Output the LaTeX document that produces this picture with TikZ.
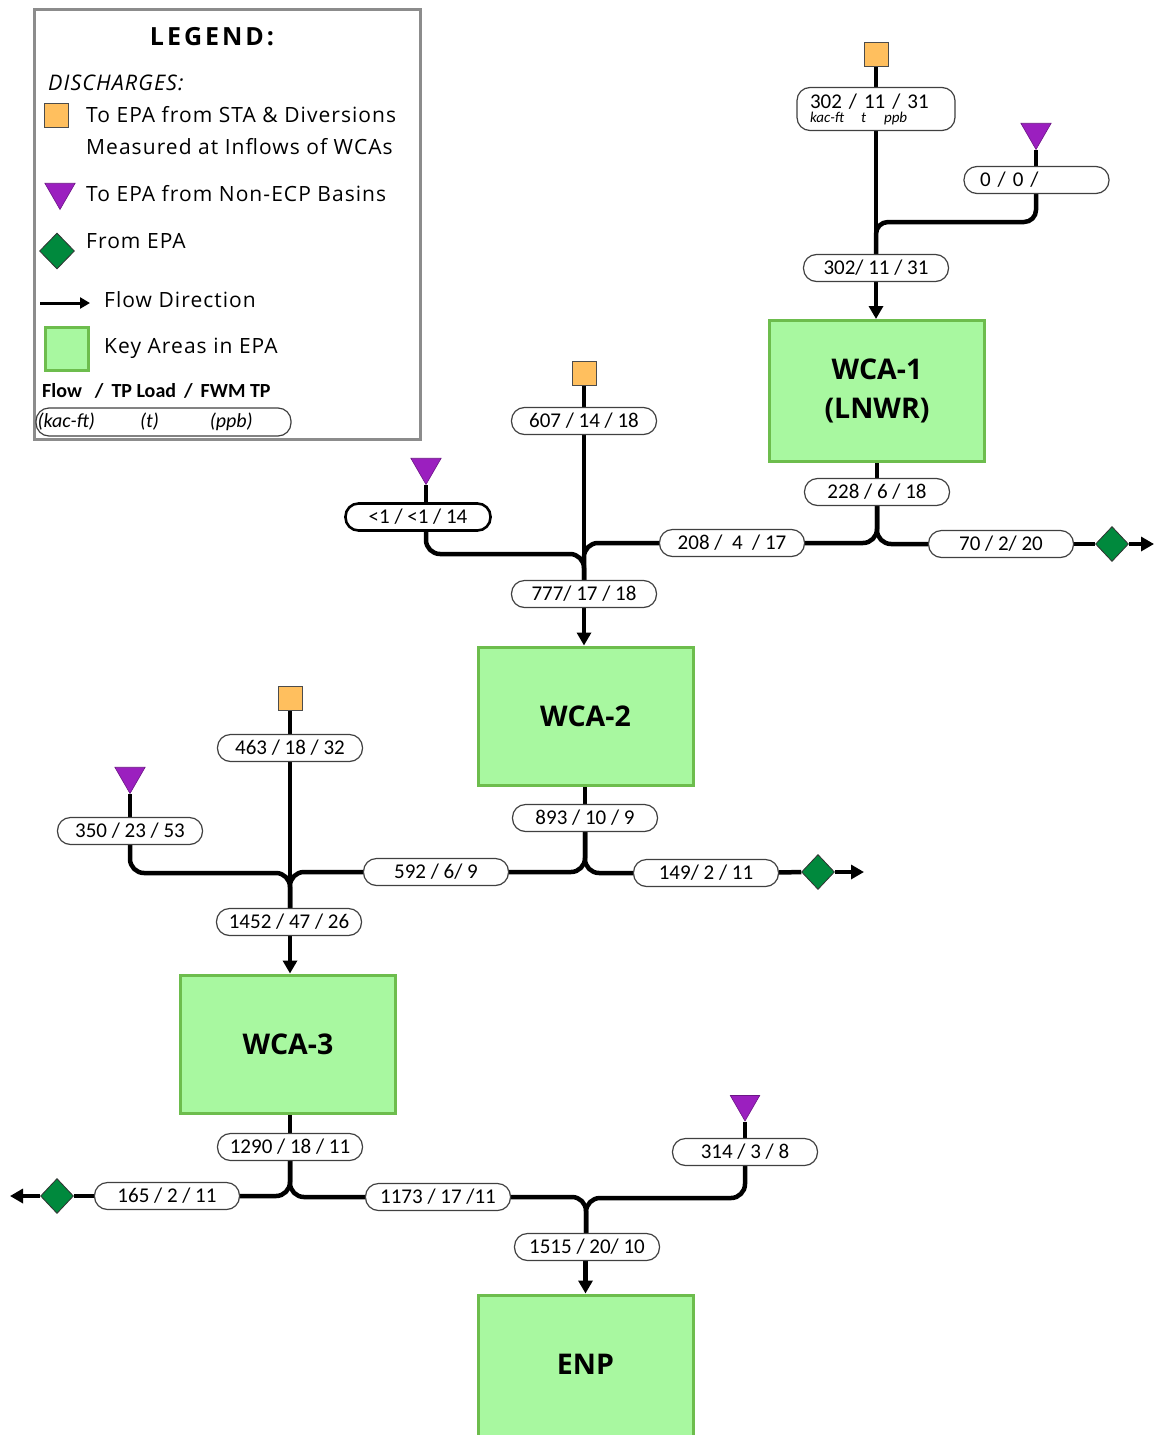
\documentclass[tikz,border=0pt]{standalone}
\usepackage{fontspec}
\setmainfont{Open Sans}
\newfontfamily\numfont{Carlito}
\newfontfamily\spacedfont[LetterSpace=12]{Open Sans}
\newfontfamily\legfont[LetterSpace=5]{Open Sans}
\usetikzlibrary{arrows.meta,shapes.geometric,backgrounds}
\definecolor{stacol}{HTML}{FFBF5E}
\definecolor{basincol}{HTML}{9B1FBF}
\definecolor{outcol}{HTML}{00893D}
\definecolor{areacol}{HTML}{A8F8A0}
\definecolor{areaedge}{HTML}{6DBD4D}
\tikzset{%
  flow/.style={line width=4.5pt, line join=round},%
  flowarrow/.style={flow, -{Triangle[length=13pt,width=14pt]}},%
  pill/.style={draw=black!75, line width=1.2pt, fill=white, rounded corners=13pt,%
    minimum width=145pt, minimum height=27pt, inner sep=0pt,%
    font=\numfont\fontsize{21}{21}\selectfont},%
  stabox/.style={draw=black!70, line width=1pt, fill=stacol, minimum size=24pt, inner sep=0pt},%
  basin/.style={regular polygon, regular polygon sides=3, shape border rotate=180,%
    fill=basincol, draw=basincol!70!black, line width=0.6pt, minimum size=35pt, inner sep=0pt},%
  outlet/.style={diamond, fill=outcol, draw=black!80, line width=0.8pt,%
    minimum width=33pt, minimum height=35pt, inner sep=0pt},%
  area/.style={draw=areaedge, line width=3pt, fill=areacol, minimum width=215pt,%
    minimum height=138pt, inner sep=0pt, align=center,%
    font=\fontsize{28.5}{39}\selectfont\bfseries},%
  legtext/.style={anchor=west, inner sep=0pt, font=\legfont\fontsize{21}{21}\selectfont},%
}
\begin{document}
\begin{tikzpicture}[x=1pt,y=-1pt]%
\useasboundingbox (0,0) rectangle (1154,1435);%
%
\node[draw=black!45, line width=3pt, minimum width=386pt, minimum height=430pt] (legend) at (227.5,224.5) {};%
\node[inner sep=0pt, font=\spacedfont\fontsize{25}{25}\selectfont\bfseries] (legtitle) at (212,37) {LEGEND:};%
\node[legtext, font=\legfont\fontsize{21.5}{21.5}\selectfont\itshape] (legdis) at (48,83) {DISCHARGES:};%
\node[stabox] (lsq) at (56,115) {};%
\node[legtext] (lsqa) at (86,115) {To EPA from STA \& Diversions};%
\node[legtext] (lsqb) at (86,147) {Measured at Inflows of WCAs};%
\node[basin] (ltri) at (60,192) {};%
\node[legtext] (ltritxt) at (86,194) {To EPA from Non-ECP Basins};%
\node[outlet, minimum width=35pt, minimum height=36pt] (ldia) at (57,251) {};%
\node[legtext] (ldiatxt) at (86,241) {From EPA};%
\coordinate (larr0) at (40,303);%
\coordinate (larr1) at (90,303);%
\draw[line width=3pt, -{Triangle[length=10pt,width=11pt]}] (larr0) -- (larr1);%
\node[legtext] (larrtxt) at (104,300) {Flow Direction};%
\node[area, minimum width=43pt, minimum height=43pt] (lkey) at (67,349) {};%
\node[legtext] (lkeytxt) at (104,348) {Key Areas in EPA};%
\node[legtext, font=\numfont\fontsize{20}{20}\selectfont\bfseries] (lunits) at (42,391)%
  {Flow\hspace{13pt}/\hspace{8pt}TP Load\hspace{8pt}/\hspace{8pt}FWM TP};%
\node[pill, minimum width=255pt, minimum height=28pt, text width=252pt, align=left,%
  font=\numfont\fontsize{20}{20}\selectfont\itshape] (lpill) at (163.5,422)%
  {(kac-ft)\hspace{45pt}(t)\hspace{51pt}(ppb)};%
%
\node[area, minimum height=141pt] (wca1) at (877,391) {WCA-1\\(LNWR)};%
\node[area] (wca2) at (585.5,716) {WCA-2};%
\node[area] (wca3) at (288,1044) {WCA-3};%
\node[area, minimum height=152pt] (enp) at (585.5,1371) {\raisebox{0pt}[\height][14pt]{ENP}};%
%
\node[stabox] (s1) at (876,54) {};%
\node[stabox] (s2) at (584,373) {};%
\node[stabox] (s3) at (290,698) {};%
\node[basin] (t1) at (1036,132) {};%
\node[basin] (t2) at (426,467) {};%
\node[basin] (t3) at (130,776) {};%
\node[basin, minimum size=34pt] (t4) at (745,1104) {};%
\node[outlet] (d1) at (1112,544) {};%
\node[outlet] (d2) at (818,872) {};%
\node[outlet] (d3) at (57,1196) {};%
\coordinate (e1) at (1154,544);%
\coordinate (e2) at (864,872);%
\coordinate (e3) at (10,1196);%
%
\node[pill, minimum width=158pt, minimum height=43pt, text width=132pt, align=left] (p302a) at (876,109)%
  {302 / 11 / 31\\[-7pt]{\fontsize{15}{15}\selectfont\itshape kac-ft\hspace{17pt}t\hspace{18pt}ppb}};%
\node[pill, text width=113pt, align=left] (p00) at (1036.5,180) {0 / 0 /};%
\node[pill] (p302b) at (876,268) {302/ 11 / 31};%
\node[pill] (p228) at (877,492) {228 / 6 / 18};%
\node[pill] (p208) at (732,543) {208 /\ \ 4\ \ / 17};%
\node[pill] (p70) at (1001,544) {70 / 2/ 20};%
\node[pill] (p607) at (584,421) {607 / 14 / 18};%
\node[pill, draw=black, line width=2.6pt] (p1) at (418,517) {<1 / <1 / 14};%
\node[pill] (p777) at (584,594) {777/ 17 / 18};%
\node[pill] (p893) at (585,818) {893 / 10 / 9};%
\node[pill] (p592) at (436,872) {592 / 6/ 9};%
\node[pill] (p149) at (706,873) {149/ 2 / 11};%
\node[pill] (p463) at (290,748) {463 / 18 / 32};%
\node[pill] (p350) at (130,831) {350 / 23 / 53};%
\node[pill] (p1452) at (289,922) {1452 / 47 / 26};%
\node[pill] (p1290) at (290,1147) {1290 / 18 / 11};%
\node[pill] (p165) at (167,1196) {165 / 2 / 11};%
\node[pill] (p1173) at (438,1197) {1173 / 17 /11};%
\node[pill] (p314) at (745,1152) {314 / 3 / 8};%
\node[pill] (p1515) at (587,1247) {1515 / 20/ 10};%
%
\coordinate (j1) at (876,222);%
\coordinate (j2) at (584,554);%
\coordinate (j3) at (290,873);%
\coordinate (j4) at (586,1198);%
%
\begin{scope}[on background layer]%
\draw[flow] (s1) -- (p302a);%
\draw[flow] (p302a) -- (p302b);%
\draw[flow] (t1.corner 1) -- (t1.corner 1 |- p00.north);%
\draw[flow, rounded corners=12pt] (t1.corner 1 |- p00.south) |- (j1) -- (p302b.north);%
\draw[flowarrow] (p302b) -- (p302b |- wca1.north);%
%
\draw[flow] (wca1) -- (p228);%
\draw[flow, rounded corners=14pt] (p228.south) |- (p208.east);%
\draw[flow, rounded corners=14pt] (p228.south) |- (p70.west);%
\draw[flow] (p70) -- (d1);%
\draw[flowarrow] (d1) -- (e1);%
\draw[flow, rounded corners=14pt] (p208.west) -| (p777.north);%
%
\draw[flow] (s2) -- (p607);%
\draw[flow] (p607) -- (p777);%
\draw[flow] (t2.corner 1) -- (t2.corner 1 |- p1.north);%
\draw[flow, rounded corners=14pt] (t2.corner 1 |- p1.south) |- (j2) -- (p777.north);%
\draw[flowarrow] (p777) -- (p777 |- wca2.north);%
%
\draw[flow] (wca2.south -| p893) -- (p893);%
\draw[flow, rounded corners=14pt] (p893.south) |- (p592.east);%
\draw[flow, rounded corners=14pt] (p893.south) |- (p149.west);%
\draw[flow] (p149) -- (d2);%
\draw[flowarrow] (d2) -- (e2);%
\draw[flow, rounded corners=14pt] (p592.west) -| (p1452.north -| j3);%
%
\draw[flow] (s3) -- (p463);%
\draw[flow] (p463.south -| j3) -- (p1452.north -| j3);%
\draw[flow] (t3.corner 1) -- (t3.corner 1 |- p350.north);%
\draw[flow, rounded corners=14pt] (t3.corner 1 |- p350.south) |- (j3) -- (p1452.north -| j3);%
\draw[flowarrow] (p1452.south -| j3) -- (j3 |- wca3.north);%
%
\draw[flow] (wca3.south -| p1290) -- (p1290);%
\draw[flow, rounded corners=14pt] (p1290.south) |- (p165.east);%
\draw[flow, rounded corners=14pt] (p1290.south) |- (p1173.west);%
\draw[flow] (p165) -- (d3);%
\draw[flowarrow] (d3) -- (e3);%
\draw[flow, rounded corners=14pt] (p1173.east) -| (j4 |- p1515.north);%
\draw[flow] (t4.corner 1) -- (t4.corner 1 |- p314.north);%
\draw[flow, rounded corners=14pt] (t4.corner 1 |- p314.south) |- (j4) -- (j4 |- p1515.north);%
\draw[flowarrow] (p1515.south -| enp) -- (enp.north);%
\end{scope}%
\end{tikzpicture}%
\end{document}
